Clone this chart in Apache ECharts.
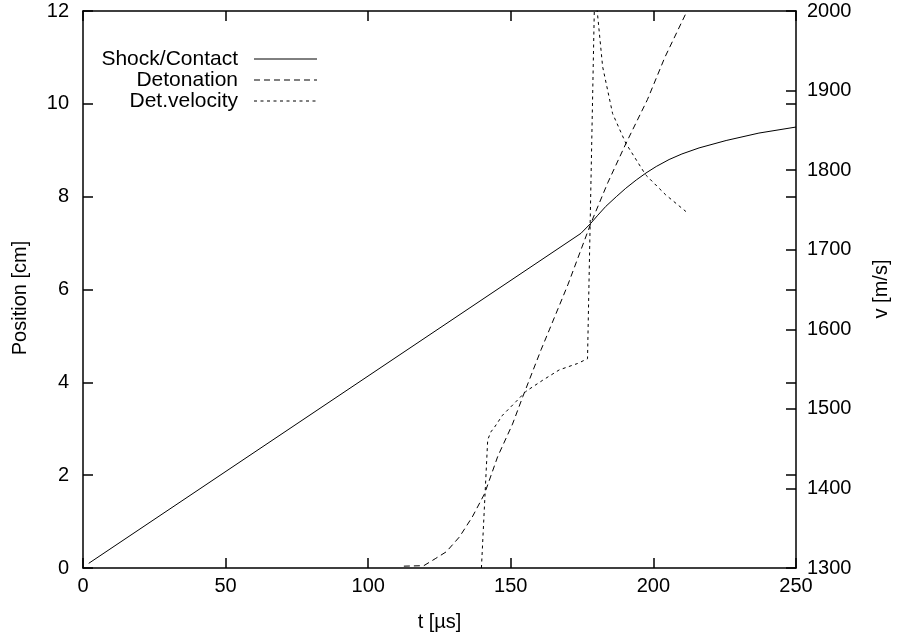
<!DOCTYPE html>
<html>
<head>
<meta charset="utf-8">
<script src="https://cdn.jsdelivr.net/npm/echarts@6/dist/echarts.min.js"></script>
<style>html,body{margin:0;padding:0;background:#fff}#c{width:898px;height:638px}</style>
</head>
<body>
<div id="c"></div>
<script>
// ---- data ----
var seriesNames = ['Shock/Contact', 'Detonation', 'Det.velocity'];
var xTicks = [0, 50, 100, 150, 200, 250];
var shockT = [2, 174.6, 178.1, 180.5, 183.3, 187, 190.3, 194, 197.4, 201, 205.5, 210, 216, 225.5, 237, 250];
var shockX = [0.1, 7.21, 7.43, 7.6, 7.79, 8.0, 8.18, 8.36, 8.51, 8.65, 8.8, 8.92, 9.05, 9.21, 9.37, 9.5];
var detT = [112.5, 119.5, 123.5, 127.4, 132, 136.5, 140.8, 145.4, 150.6, 154.2, 160.6, 163.5, 170, 178.1, 184, 190.4, 197.9, 204, 211.8];
var detX = [0.04, 0.05, 0.2, 0.35, 0.67, 1.1, 1.6, 2.4, 3.1, 3.69, 4.7, 5.13, 6.1, 7.43, 8.3, 9.15, 10.09, 11.0, 12.0];
var velT = [139.7, 141.9, 143, 144.3, 147.1, 151.8, 155.3, 161.2, 167, 173.4, 176.9, 177.2, 179.6, 180.3, 182.2, 185.7, 190.3, 197.3, 204.3, 211.4];
var velV = [1300, 1461, 1471, 1477, 1492, 1509, 1522, 1536, 1549, 1557, 1563, 1563, 2060, 2000, 1930, 1871, 1834, 1794, 1769, 1748];

function pairs(a, b) { return a.map(function (v, i) { return [v, b[i]]; }); }

var FONT = 'Liberation Sans';
var FS = 20;
var fontStr = FS + 'px "' + FONT + '"';
var legFont = '21px "' + FONT + '"';
var chart = echarts.init(document.getElementById('c'), null, { renderer: 'canvas' });
var axisLineStyle = { color: '#000', width: 1.5 };
var tickStyle = { color: '#000', width: 1.5 };
var gridBox = { left: 83, right: 102, top: 11, bottom: 70, containLabel: false };

chart.setOption({
  animation: false,
  backgroundColor: '#fff',
  grid: [gridBox, echarts.util.extend({}, gridBox)],
  xAxis: [{
    gridIndex: 0, type: 'value', min: 0, max: 250, interval: 50, position: 'bottom',
    name: 't [\u00b5s]', nameLocation: 'middle', nameGap: 44,
    nameTextStyle: { color: '#000', fontFamily: FONT, fontSize: FS },
    axisLine: { onZero: false, lineStyle: axisLineStyle },
    axisTick: { inside: true, length: 10, lineStyle: tickStyle },
    axisLabel: { color: '#000', fontFamily: FONT, fontSize: FS, margin: 8,
      formatter: function (v) { return xTicks.indexOf(v) >= 0 ? String(v) : ''; } },
    splitLine: { show: false }
  }, {
    gridIndex: 0, type: 'value', min: 0, max: 250, interval: 50, position: 'top',
    axisLine: { onZero: false, lineStyle: axisLineStyle },
    axisTick: { inside: true, length: 10, lineStyle: tickStyle },
    axisLabel: { show: false }, splitLine: { show: false }
  }, {
    gridIndex: 1, type: 'value', min: 0, max: 250, show: false,
    axisLine: { onZero: false }
  }],
  yAxis: [{
    gridIndex: 0, type: 'value', min: 0, max: 12, interval: 2, position: 'left',
    axisLine: { show: true, onZero: false, lineStyle: axisLineStyle },
    axisTick: { show: true, inside: true, length: 10, lineStyle: tickStyle },
    axisLabel: { color: '#000', fontFamily: FONT, fontSize: FS, margin: 14 },
    splitLine: { show: false }
  }, {
    gridIndex: 0, type: 'value', min: 1300, max: 2000, interval: 100, position: 'right',
    axisLine: { show: true, onZero: false, lineStyle: axisLineStyle },
    axisTick: { show: true, inside: true, length: 10, lineStyle: tickStyle },
    axisLabel: { color: '#000', fontFamily: FONT, fontSize: FS, margin: 11,
      formatter: function (v) { return String(v); } },
    splitLine: { show: false }
  }, {
    gridIndex: 1, type: 'value', min: 0, max: 12, interval: 2, position: 'right',
    axisLine: { show: false, onZero: false },
    axisTick: { show: true, inside: true, length: 10, lineStyle: tickStyle },
    axisLabel: { show: false }, splitLine: { show: false }
  }],
  series: [{
    name: seriesNames[0], type: 'line', xAxisIndex: 0, yAxisIndex: 0,
    data: pairs(shockT, shockX), showSymbol: false, symbol: 'none', clip: true,
    lineStyle: { color: '#000', width: 1, type: 'solid' }
  }, {
    name: seriesNames[1], type: 'line', xAxisIndex: 0, yAxisIndex: 0,
    data: pairs(detT, detX), showSymbol: false, symbol: 'none', clip: true,
    lineStyle: { color: '#000', width: 1, type: [6, 4] }
  }, {
    name: seriesNames[2], type: 'line', xAxisIndex: 0, yAxisIndex: 1,
    data: pairs(velT, velV), showSymbol: false, symbol: 'none', clip: true,
    lineStyle: { color: '#000', width: 1, type: [3, 3.5] }
  }],
  graphic: [
    { type: 'text', x: 20, y: 298, rotation: Math.PI / 2, style: { text: 'Position [cm]', fill: '#000', font: fontStr, textAlign: 'center', textVerticalAlign: 'middle' } },
    { type: 'text', x: 881, y: 289, rotation: Math.PI / 2, style: { text: 'v [m/s]', fill: '#000', font: fontStr, textAlign: 'center', textVerticalAlign: 'middle' } },
    { type: 'text', x: 238, y: 59, style: { text: seriesNames[0], fill: '#000', font: legFont, textAlign: 'right', textVerticalAlign: 'middle' } },
    { type: 'text', x: 238, y: 80, style: { text: seriesNames[1], fill: '#000', font: legFont, textAlign: 'right', textVerticalAlign: 'middle' } },
    { type: 'text', x: 238, y: 101, style: { text: seriesNames[2], fill: '#000', font: legFont, textAlign: 'right', textVerticalAlign: 'middle' } },
    { type: 'line', shape: { x1: 254, y1: 59, x2: 317, y2: 59 }, style: { stroke: '#000', lineWidth: 1 } },
    { type: 'line', shape: { x1: 254, y1: 80, x2: 317, y2: 80 }, style: { stroke: '#000', lineWidth: 1, lineDash: [6, 4] } },
    { type: 'line', shape: { x1: 254, y1: 101, x2: 317, y2: 101 }, style: { stroke: '#000', lineWidth: 1, lineDash: [3, 3.5] } }
  ]
});
</script>
</body>
</html>
